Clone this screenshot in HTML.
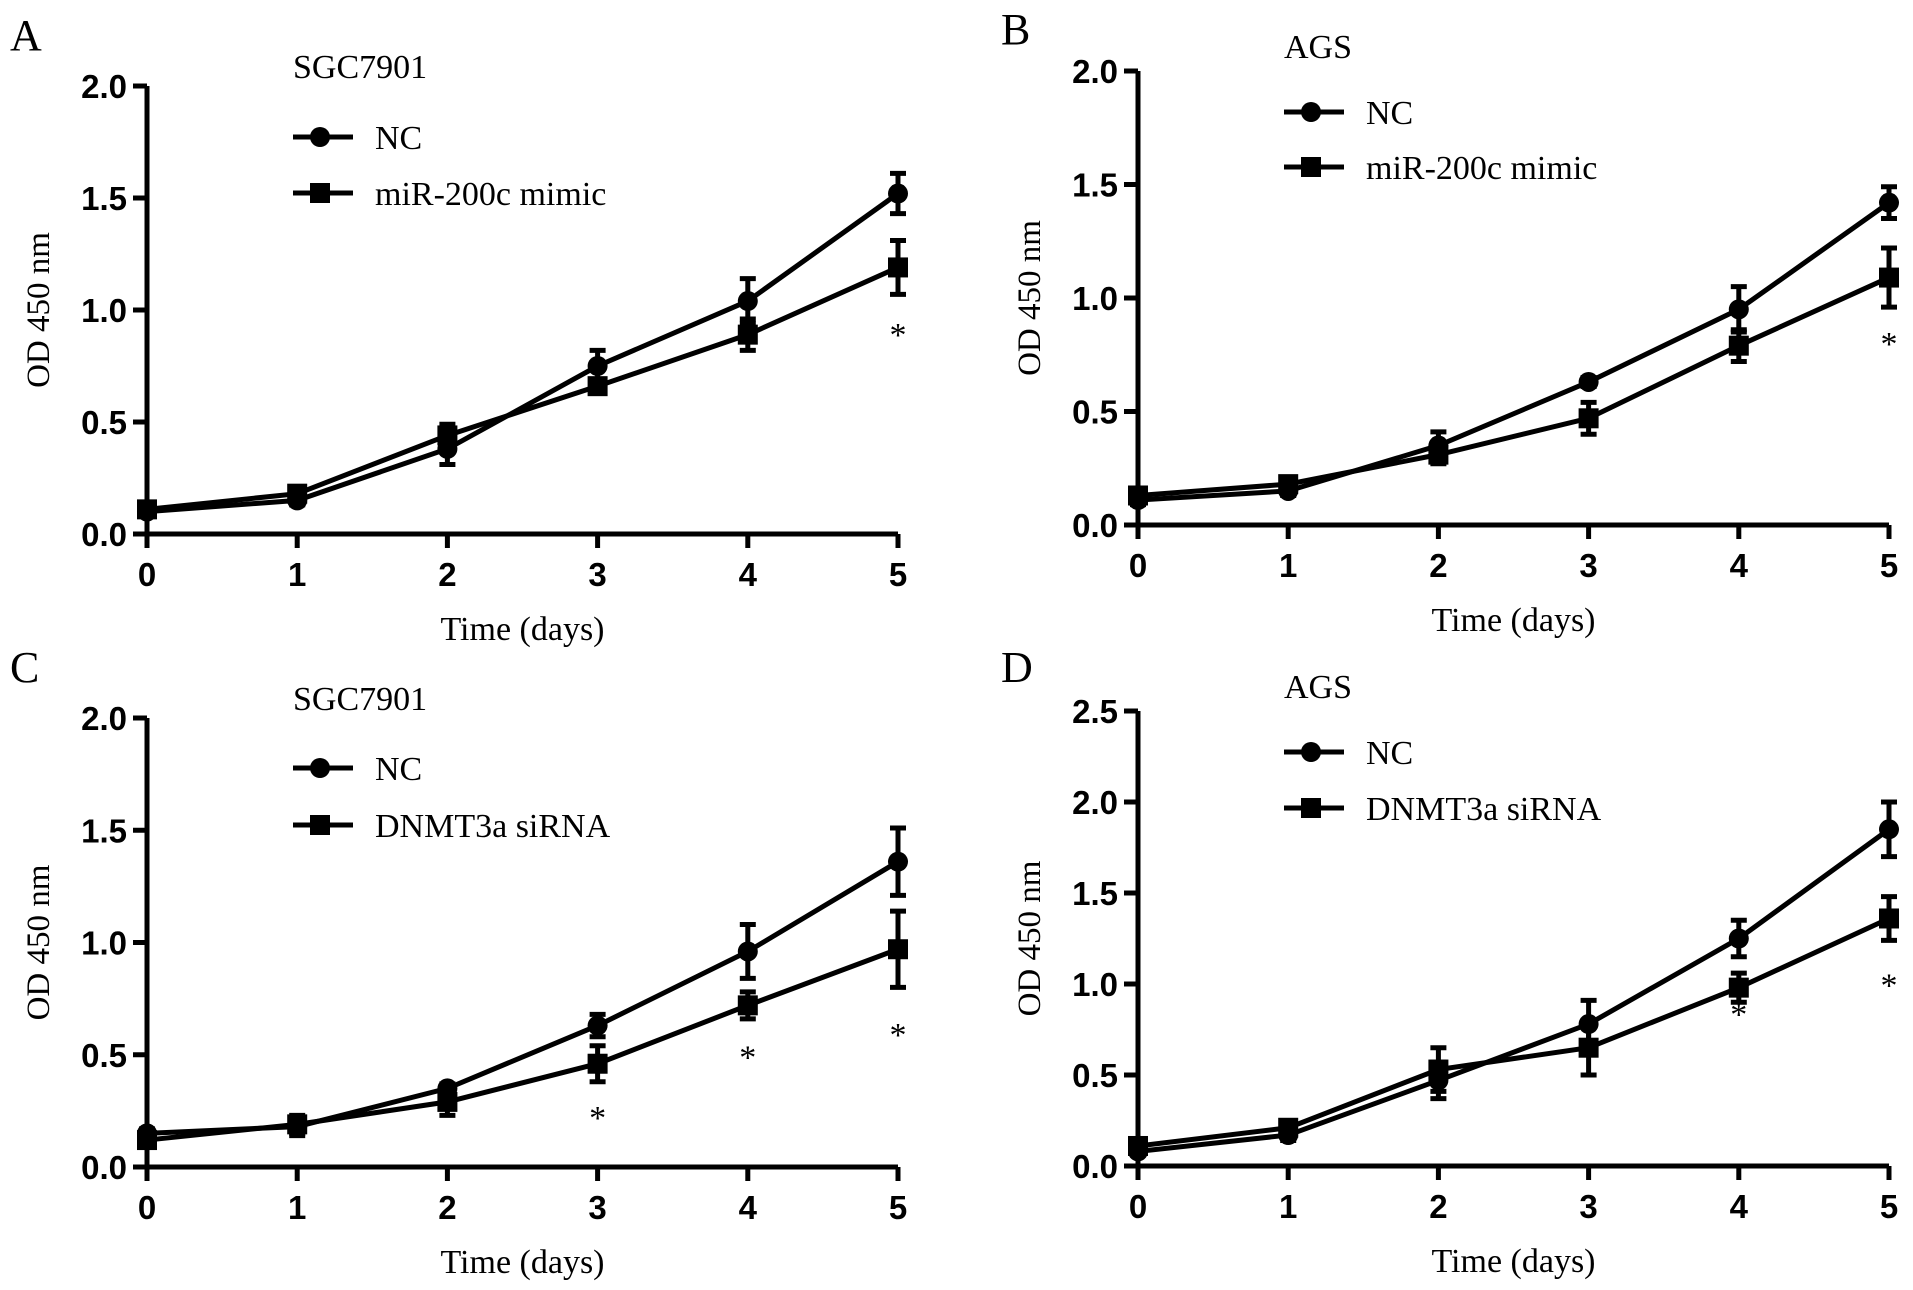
<!DOCTYPE html>
<html><head><meta charset="utf-8">
<style>
html,body{margin:0;padding:0;background:#fff;}
svg{display:block;}
.tick{font-family:"Liberation Sans Narrow","Liberation Sans",sans-serif;font-weight:bold;font-size:33px;fill:#000;}
.serif{font-family:"Liberation Serif",serif;fill:#000;}
</style></head>
<body>
<svg id="fig" width="1913" height="1290" viewBox="0 0 1913 1290" xmlns="http://www.w3.org/2000/svg"></svg>
<script>
// Panel A
const daysA = [0,1,2,3,4,5];
const ncA = [0.10,0.15,0.38,0.75,1.04,1.52];
const ncErrA = [0.02,0.02,0.07,0.07,0.10,0.09];
const trA = [0.11,0.18,0.44,0.66,0.89,1.19];
const trErrA = [0.02,0.02,0.05,0.03,0.07,0.12];
const starDaysA = [5];
const starValsA = [0.91];
const yTicksA = [0,0.5,1.0,1.5,2.0];
// Panel B
const daysB = [0,1,2,3,4,5];
const ncB = [0.11,0.15,0.35,0.63,0.95,1.42];
const ncErrB = [0.02,0.02,0.06,0.02,0.10,0.07];
const trB = [0.13,0.18,0.31,0.47,0.79,1.09];
const trErrB = [0.02,0.02,0.04,0.07,0.07,0.13];
const starDaysB = [5];
const starValsB = [0.82];
const yTicksB = [0,0.5,1.0,1.5,2.0];
// Panel C
const daysC = [0,1,2,3,4,5];
const ncC = [0.15,0.18,0.35,0.63,0.96,1.36];
const ncErrC = [0.02,0.04,0.02,0.05,0.12,0.15];
const trC = [0.12,0.19,0.29,0.46,0.72,0.97];
const trErrC = [0.02,0.04,0.06,0.08,0.06,0.17];
const starDaysC = [3,4,5];
const starValsC = [0.24,0.51,0.61];
const yTicksC = [0,0.5,1.0,1.5,2.0];
// Panel D
const daysD = [0,1,2,3,4,5];
const ncD = [0.08,0.17,0.47,0.78,1.25,1.85];
const ncErrD = [0.02,0.03,0.10,0.13,0.10,0.15];
const trD = [0.11,0.21,0.53,0.65,0.98,1.36];
const trErrD = [0.02,0.03,0.12,0.15,0.08,0.12];
const starDaysD = [4,5];
const starValsD = [0.86,1.02];
const yTicksD = [0,0.5,1.0,1.5,2.0,2.5];
const xTicks = [0,1,2,3,4,5];

const NS = "http://www.w3.org/2000/svg";
const svg = document.getElementById('fig');
function mk(tag, attrs, parent){
  const e = document.createElementNS(NS, tag);
  for (const k in attrs) e.setAttribute(k, attrs[k]);
  (parent||svg).appendChild(e);
  return e;
}

function panel(cfg){
  const g = mk('g', {});
  
  
  const x0=cfg.x0, x5=cfg.x5, yb=cfg.y0, ytop=cfg.ytop, ymax=cfg.yTicks[cfg.yTicks.length-1];
  const xs = d => x0 + (x5-x0)*d/5;
  const ys = v => yb - (yb-ytop)*v/ymax;
  const L = mk('text', {x: x0-137, y: cfg.letterY, class:'serif', 'font-size':44}, g);
  L.textContent = cfg.id;
  
  
  const T = mk('text', {x: x0+146, y: cfg.titleY, class:'serif', 'font-size':34}, g);
  T.textContent = cfg.title;
  
  
  const ax = mk('path', {d:`M${x0} ${ytop} L${x0} ${yb+14} M${x0-14} ${yb} L${x5} ${yb}`, stroke:'#000','stroke-width':5, fill:'none'}, g);
  
  
  cfg.yTicks.forEach(v=>{
    mk('line',{x1:x0-14,x2:x0,y1:ys(v),y2:ys(v),stroke:'#000','stroke-width':5},g);
    const t = mk('text',{x:x0-20,y:ys(v)+12,'text-anchor':'end',class:'tick'},g);
    t.textContent = v.toFixed(1);
    
    
  });
  xTicks.forEach(d=>{
    mk('line',{x1:xs(d),x2:xs(d),y1:yb,y2:yb+14,stroke:'#000','stroke-width':5},g);
    const t = mk('text',{x:xs(d),y:yb+52,'text-anchor':'middle',class:'tick'},g);
    t.textContent = d;
    
    
  });
  const yt = mk('text',{x:0,y:0,class:'serif','font-size':33,'text-anchor':'middle',transform:`translate(${x0-98},${(yb+ytop)/2}) rotate(-90)`},g);
  yt.textContent = 'OD 450 nm';
  
  
  const xt = mk('text',{x:(x0+x5)/2,y:yb+106,class:'serif','font-size':34,'text-anchor':'middle'},g);
  xt.textContent = 'Time (days)';
  
  
  function series(days, vals, errs, shape, name){
    const sg = mk('g',{},g);
    
    
    mk('polyline',{points:days.map((d,i)=>xs(d)+','+ys(vals[i])).join(' '),fill:'none',stroke:'#000','stroke-width':5},sg);
    days.forEach((d,i)=>{
      const x=xs(d), y=ys(vals[i]), hi=ys(vals[i]+errs[i]), lo=ys(vals[i]-errs[i]);
      mk('path',{d:`M${x} ${hi} L${x} ${lo} M${x-8} ${hi} L${x+8} ${hi} M${x-8} ${lo} L${x+8} ${lo}`,stroke:'#000','stroke-width':5,fill:'none'},sg);
      if(shape==='circle') mk('circle',{cx:x,cy:y,r:10,fill:'#000'},sg);
      else mk('rect',{x:x-10,y:y-10,width:20,height:20,fill:'#000'},sg);
    });
  }
  series(cfg.days, cfg.nc, cfg.ncErr, 'circle', 'series-nc');
  series(cfg.days, cfg.tr, cfg.trErr, 'square', 'series-treatment');
  cfg.starDays.forEach((d,i)=>{
    const s = mk('text',{x:xs(d),y:ys(cfg.starVals[i])+16,class:'serif','font-size':34,'text-anchor':'middle'},g);
    s.textContent='*';
    
    
  });
  [['circle','NC',cfg.legY1],['square',cfg.trName,cfg.legY2]].forEach(([sh,lab,ly])=>{
    const lg = mk('g',{},g);
    
    
    const lx = x0+146;
    mk('line',{x1:lx,x2:lx+60,y1:ly,y2:ly,stroke:'#000','stroke-width':5},lg);
    if(sh==='circle') mk('circle',{cx:lx+27,cy:ly,r:10,fill:'#000'},lg);
    else mk('rect',{x:lx+17,y:ly-10,width:20,height:20,fill:'#000'},lg);
    const t = mk('text',{x:lx+82,y:ly+12,class:'serif','font-size':34},lg);
    t.textContent = lab;
  });
}

panel({id:'A',title:'SGC7901',x0:147,x5:898,y0:534,ytop:86,yTicks:yTicksA,letterY:50,titleY:78,legY1:137,legY2:193,
  days:daysA,nc:ncA,ncErr:ncErrA,tr:trA,trErr:trErrA,trName:'miR-200c mimic',starDays:starDaysA,starVals:starValsA});
panel({id:'B',title:'AGS',x0:1138,x5:1889,y0:525,ytop:71,yTicks:yTicksB,letterY:44,titleY:58,legY1:112,legY2:167,
  days:daysB,nc:ncB,ncErr:ncErrB,tr:trB,trErr:trErrB,trName:'miR-200c mimic',starDays:starDaysB,starVals:starValsB});
panel({id:'C',title:'SGC7901',x0:147,x5:898,y0:1167,ytop:718,yTicks:yTicksC,letterY:682,titleY:710,legY1:768,legY2:825,
  days:daysC,nc:ncC,ncErr:ncErrC,tr:trC,trErr:trErrC,trName:'DNMT3a siRNA',starDays:starDaysC,starVals:starValsC});
panel({id:'D',title:'AGS',x0:1138,x5:1889,y0:1166,ytop:711,yTicks:yTicksD,letterY:682,titleY:698,legY1:752,legY2:808,
  days:daysD,nc:ncD,ncErr:ncErrD,tr:trD,trErr:trErrD,trName:'DNMT3a siRNA',starDays:starDaysD,starVals:starValsD});
</script>
</body></html>
